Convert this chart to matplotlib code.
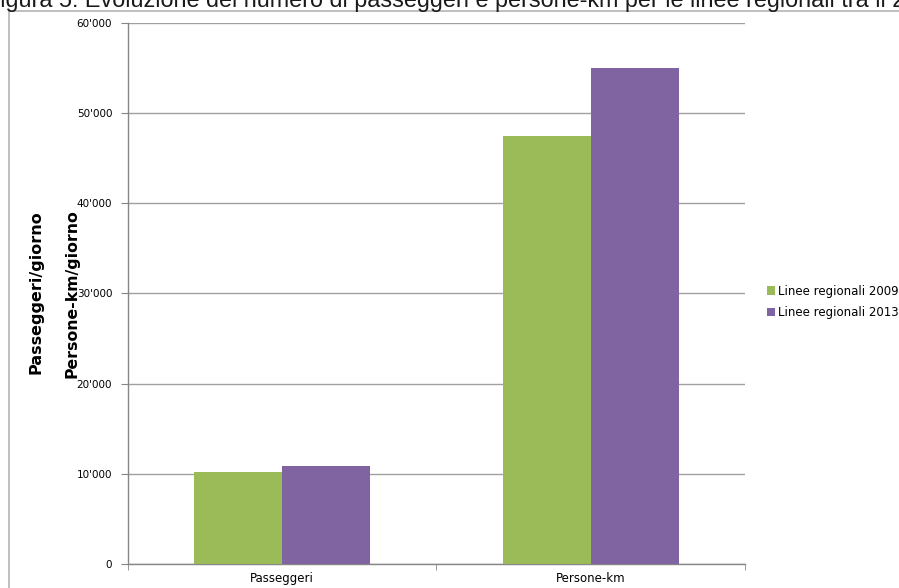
import numpy as np
import matplotlib
matplotlib.use("Agg")
import matplotlib.pyplot as plt
from matplotlib.patches import Rectangle

# ---------------------------------------------------------------------------
# Data
# ---------------------------------------------------------------------------
categories = ['Passeggeri', 'Persone-km']
series_names = ['Linee regionali 2009', 'Linee regionali 2013']
values_2009 = [10200, 47500]
values_2013 = [10900, 55000]
y_ticks = [0, 10000, 20000, 30000, 40000, 50000, 60000]
y_tick_labels = ["0", "10'000", "20'000", "30'000", "40'000", "50'000",
                 "60'000"]
title = ("Figura 5: Evoluzione del numero di passeggeri e persone-km per le "
         "linee regionali tra il 2009 e il 2013")

colours = ['#9BBB59', '#8064A2']
grid_col = '#a0a0a0'
axis_col = '#868686'

W, H = 899, 588
fig = plt.figure(figsize=(W / 100, H / 100), dpi=100)

# outer frame of the chart (runs past the right and bottom edges)
fig.patches.append(Rectangle((8.5 / W, -0.1), 1.2, (H - 11) / H + 0.1,
                             transform=fig.transFigure, fill=False,
                             edgecolor='#b4b4b4', lw=1.2))

# title, clipped at the top-left like the screenshot
fig.text(-14 / W, 1 - 6.5 / H, title, fontsize=16.85, family='Liberation Sans',
         va='baseline', ha='left', color='#1a1a1a')

ax = fig.add_axes([127.5 / W, 24.3 / H, (745 - 127.5) / W, 540.5 / H])

x = np.arange(len(categories)) + 0.5
bw = 0.285
ax.bar(x - bw / 2, values_2009, bw, color=colours[0], label=series_names[0],
       zorder=3)
ax.bar(x + bw / 2, values_2013, bw, color=colours[1], label=series_names[1],
       zorder=3)

ax.set_xlim(0, len(categories))
ax.set_ylim(0, 60000)
ax.set_yticks(y_ticks)
ax.set_yticklabels(y_tick_labels, fontsize=7.5)
ax.yaxis.grid(True, color=grid_col, lw=1, zorder=0)
ax.set_axisbelow(True)

ax.set_xticks(x)
ax.set_xticklabels(categories, fontsize=8.5)
ax.set_xticks(np.arange(len(categories) + 1), minor=True)
ax.tick_params(axis='x', which='major', length=0, pad=6)
ax.tick_params(axis='x', which='minor', length=4, color=axis_col)
ax.tick_params(axis='y', length=5, color=axis_col, pad=6)

for s in ['top', 'right']:
    ax.spines[s].set_visible(False)
for s in ['left', 'bottom']:
    ax.spines[s].set_color(axis_col)
    ax.spines[s].set_linewidth(1)

fig.text(36 / W, 1 - 292 / H, 'Passeggeri/giorno', rotation=90,
         fontsize=11.5, fontweight='bold', ha='center', va='center')
fig.text(72 / W, 1 - 294 / H, 'Persone-km/giorno', rotation=90,
         fontsize=11.3, fontweight='bold', ha='center', va='center')

fig.legend(loc='center left', bbox_to_anchor=(761 / W, 1 - 302 / H),
           frameon=False, fontsize=8.5, handlelength=0.7, handleheight=0.7,
           handletextpad=0.2, labelspacing=0.75, borderpad=0)

fig.savefig('out.png', dpi=100)
